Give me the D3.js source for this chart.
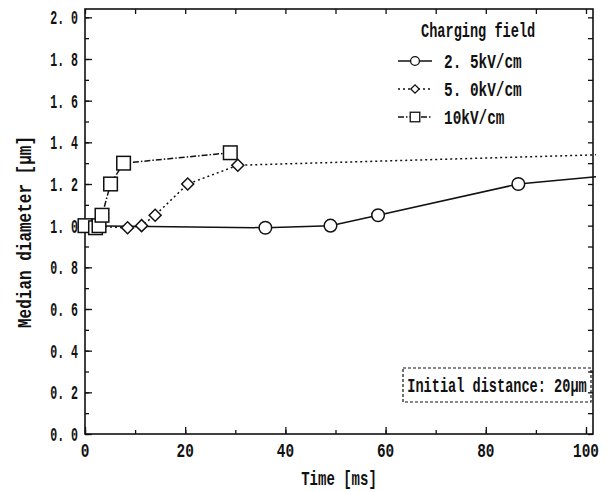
<!DOCTYPE html>
<html>
<head>
<meta charset="utf-8">
<script src="https://cdn.jsdelivr.net/npm/d3@7"></script>
<style>
  body { margin: 0; background: #fff; }
  text { font-family: "Liberation Mono", "DejaVu Sans Mono", monospace; fill: #111; font-size: 20px; font-weight: bold; }
</style>
</head>
<body>
<div id="chart"></div>
<script>
// values
var series = ["2. 5kV/cm", "5. 0kV/cm", "10kV/cm"];
var times25 = [0, 36, 49, 58.5, 86.5, 102];
var diam25 = [1.0, 0.99, 1.0, 1.05, 1.2, 1.235];
var marks25 = [0, 1, 1, 1, 1, 0];
var times50 = [0, 8.5, 11.3, 14, 20.5, 30.5, 102];
var diam50 = [1.0, 0.99, 1.0, 1.05, 1.2, 1.29, 1.34];
var marks50 = [0, 1, 1, 1, 1, 1, 0];
var times10 = [0, 2.1, 2.8, 3.4, 5.1, 7.7, 29];
var diam10 = [1.0, 0.99, 1.0, 1.05, 1.2, 1.3, 1.35];
var marks10 = [1, 1, 1, 1, 1, 1, 1];
var xTicks = [0, 20, 40, 60, 80, 100];
var yTicks = [0, 0.2, 0.4, 0.6, 0.8, 1.0, 1.2, 1.4, 1.6, 1.8, 2.0];

var width = 613, height = 492;
var svg = d3.select("#chart").append("svg")
  .attr("width", width).attr("height", height);

var x = d3.scaleLinear().domain([0, 101.4]).range([85, 593]);
var y = d3.scaleLinear().domain([0, 2.04]).range([434, 9]);

// narrow text, like the condensed typewriter face of the original
function label(tx, ty, str, anchor, sx) {
  return svg.append("text")
    .attr("transform", "translate(" + tx + "," + ty + ") scale(" + (sx || 0.68) + ",1)")
    .attr("text-anchor", anchor || "start")
    .text(str);
}

// frame
svg.append("rect")
  .attr("x", x(0)).attr("y", y(2.04))
  .attr("width", x(101.4) - x(0)).attr("height", y(0) - y(2.04))
  .attr("fill", "none").attr("stroke", "#111").attr("stroke-width", 1.6);

// axes with inward ticks
var minorX = d3.range(0, 101, 10), minorY = d3.range(0, 2.01, 0.1);
var noDomain = function(g) { g.select(".domain").remove(); };
svg.append("g").attr("transform", "translate(0," + y(0) + ")")
  .call(d3.axisBottom(x).tickValues(minorX).tickSize(-4).tickFormat("")).call(noDomain);
svg.append("g").attr("transform", "translate(0," + y(0) + ")")
  .call(d3.axisBottom(x).tickValues(xTicks).tickSize(-7).tickFormat("")).call(noDomain);
svg.append("g").attr("transform", "translate(0," + y(2.04) + ")")
  .call(d3.axisTop(x).tickValues(minorX).tickSize(-5).tickFormat("")).call(noDomain);
svg.append("g").attr("transform", "translate(" + x(0) + ",0)")
  .call(d3.axisLeft(y).tickValues(minorY).tickSize(-4).tickFormat("")).call(noDomain);
svg.append("g").attr("transform", "translate(" + x(0) + ",0)")
  .call(d3.axisLeft(y).tickValues(yTicks).tickSize(-7).tickFormat("")).call(noDomain);
svg.append("g").attr("transform", "translate(" + x(101.4) + ",0)")
  .call(d3.axisRight(y).tickValues(minorY).tickSize(-5).tickFormat("")).call(noDomain);
svg.selectAll(".tick line").attr("stroke", "#111").attr("stroke-width", 1.3);

// tick labels
xTicks.forEach(function(v) { label(x(v), 457, String(v), "middle", 0.72); });
yTicks.forEach(function(v) {
  label(78, y(v) + 7, v.toFixed(1).replace(".", ". "), "end", 0.58);
});

// axis titles
label((x(0) + x(101.4)) / 2, 485, "Time [ms]", "middle", 0.7);
svg.append("text")
  .attr("transform", "translate(31,232) rotate(-90) scale(0.8,1)")
  .attr("text-anchor", "middle")
  .text("Median diameter [μm]");

var line = d3.line().x(function(d) { return x(d.t); }).y(function(d) { return y(d.v); });

function toPoints(ts, vs, ms) {
  return ts.map(function(t, i) { return { t: t, v: vs[i], m: ms[i] }; });
}
var dash = ["", "2,3", "6,2,1.5,2"];
var data = [toPoints(times25, diam25, marks25), toPoints(times50, diam50, marks50), toPoints(times10, diam10, marks10)];

function marker(g, kind, cx, cy, s) {
  if (kind === 0) {
    g.append("circle").attr("cx", cx).attr("cy", cy).attr("r", 6.3 * s);
  } else if (kind === 1) {
    g.append("path")
      .attr("d", d3.symbol().type(d3.symbolSquare).size(72 * s * s)())
      .attr("transform", "translate(" + cx + "," + cy + ") rotate(45)");
  } else {
    g.append("rect").attr("x", cx - 6.8 * s).attr("y", cy - 6.8 * s)
      .attr("width", 13.6 * s).attr("height", 13.6 * s);
  }
}

data.forEach(function(pts, k) {
  svg.append("path").datum(pts)
    .attr("d", line).attr("fill", "none").attr("stroke", "#111")
    .attr("stroke-width", 1.5).attr("stroke-dasharray", dash[k]);
});
data.forEach(function(pts, k) {
  var g = svg.append("g").attr("fill", "#fff").attr("stroke", "#111").attr("stroke-width", 1.5);
  pts.forEach(function(p) { if (p.m) marker(g, k, x(p.t), y(p.v), 1); });
});

// legend
label(421, 37, "Charging field");
series.forEach(function(name, k) {
  var ly = 61 + k * 28;
  svg.append("line").attr("x1", 398).attr("x2", 432).attr("y1", ly).attr("y2", ly)
    .attr("stroke", "#111").attr("stroke-width", 1.3).attr("stroke-dasharray", dash[k]);
  var g = svg.append("g").attr("fill", "#fff").attr("stroke", "#111").attr("stroke-width", 1.3);
  marker(g, k, 415, ly, 0.7);
  label(444, ly + 7, name, "start", 0.72);
});

// annotation box
svg.append("rect").attr("x", 403).attr("y", 368).attr("width", 188).attr("height", 34)
  .attr("fill", "none").attr("stroke", "#111").attr("stroke-width", 1.2).attr("stroke-dasharray", "3,2");
label(497, 392, "Initial distance: 20μm", "middle", 0.68);
</script>
</body>
</html>
